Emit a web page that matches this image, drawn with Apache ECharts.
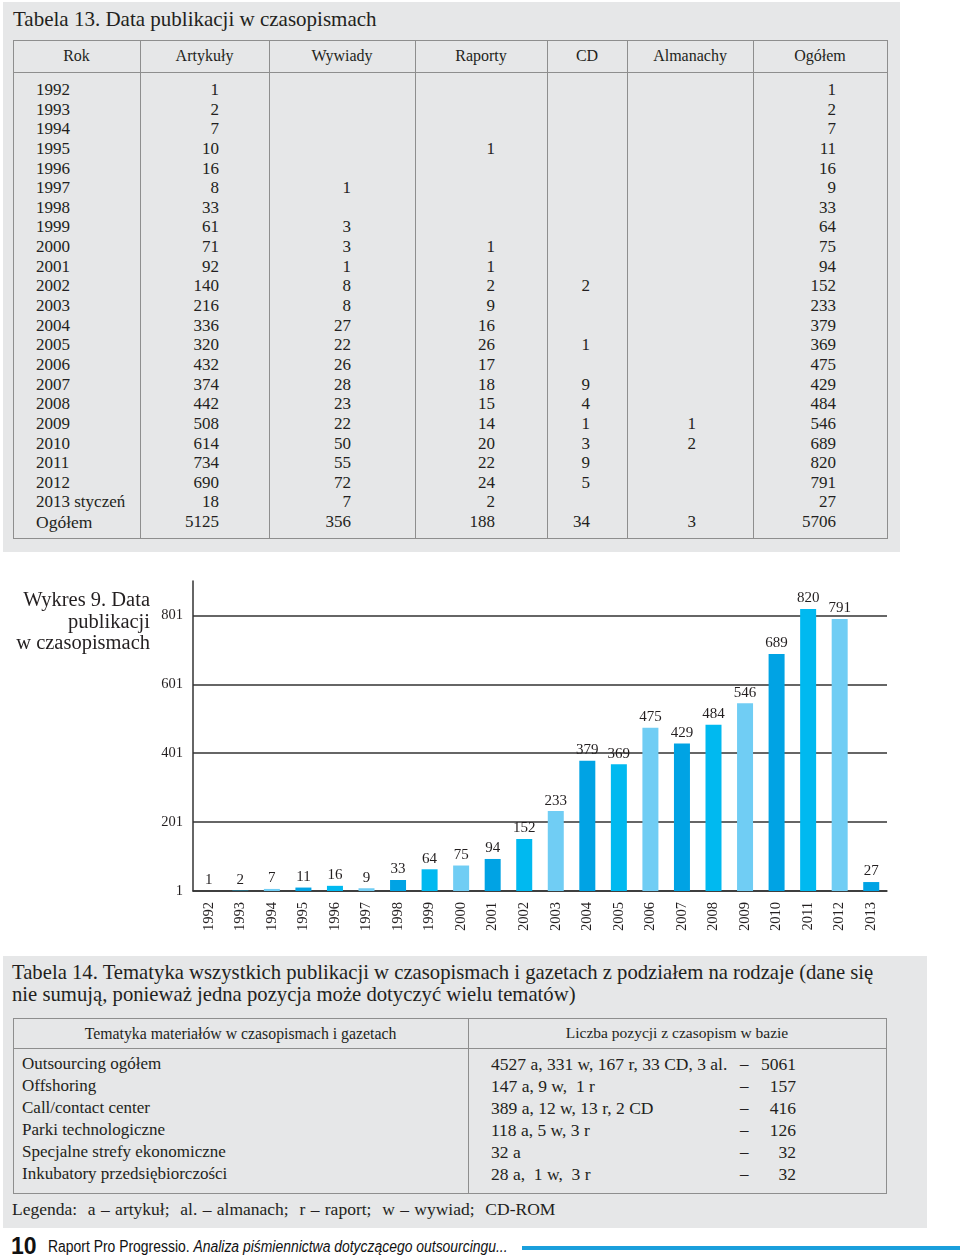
<!DOCTYPE html>
<html><head><meta charset="utf-8">
<script src="https://cdn.jsdelivr.net/npm/echarts@6/dist/echarts.min.js"></script>
<style>
html,body{margin:0;padding:0;background:#fff;}
body{width:960px;height:1257px;position:relative;overflow:hidden;font-family:"Liberation Serif","DejaVu Serif",serif;color:#231f20;}
.abs{position:absolute;white-space:nowrap;}
.panel{position:absolute;background:#e6e7e8;}
.ln{position:absolute;background:#8e8e8e;}
</style></head><body>
<script>
// ---------- DATA ----------
const t13Title = 'Tabela 13. Data publikacji w czasopismach';
const t13Headers = ['Rok','Artykuły','Wywiady','Raporty','CD','Almanachy','Ogółem'];
const t13Years = ['1992','1993','1994','1995','1996','1997','1998','1999','2000','2001','2002','2003','2004','2005','2006','2007','2008','2009','2010','2011','2012','2013 styczeń','Ogółem'];
const t13Artykuly = [1,2,7,10,16,8,33,61,71,92,140,216,336,320,432,374,442,508,614,734,690,18,5125];
const t13Wywiady = [null,null,null,null,null,1,null,3,3,1,8,8,27,22,26,28,23,22,50,55,72,7,356];
const t13Raporty = [null,null,null,1,null,null,null,null,1,1,2,9,16,26,17,18,15,14,20,22,24,2,188];
const t13CD = [null,null,null,null,null,null,null,null,null,null,2,null,null,1,null,9,4,1,3,9,5,null,34];
const t13Almanachy = [null,null,null,null,null,null,null,null,null,null,null,null,null,null,null,null,null,1,2,null,null,null,3];
const t13Ogolem = [1,2,7,11,16,9,33,64,75,94,152,233,379,369,475,429,484,546,689,820,791,27,5706];

const chartTitleLines = ['Wykres 9. Data','publikacji','w czasopismach'];
const chartYears = ['1992','1993','1994','1995','1996','1997','1998','1999','2000','2001','2002','2003','2004','2005','2006','2007','2008','2009','2010','2011','2012','2013'];
const chartValues = [1,2,7,11,16,9,33,64,75,94,152,233,379,369,475,429,484,546,689,820,791,27];
const yTickValues = [1,201,401,601,801];

const t14TitleLines = ['Tabela 14. Tematyka wszystkich publikacji w czasopismach i gazetach z podziałem na rodzaje (dane się','nie sumują, ponieważ jedna pozycja może dotyczyć wielu tematów)'];
const t14Headers = ['Tematyka materiałów w czasopismach i gazetach','Liczba pozycji z czasopism w bazie'];
const t14Topics = ['Outsourcing ogółem','Offshoring','Call/contact center','Parki technologiczne','Specjalne strefy ekonomiczne','Inkubatory przedsiębiorczości'];
const t14Breakdown = ['4527 a, 331 w, 167 r, 33 CD, 3 al.','147 a, 9 w,  1 r','389 a, 12 w, 13 r, 2 CD','118 a, 5 w, 3 r','32 a','28 a,  1 w,  3 r'];
const t14Totals = [5061,157,416,126,32,32];
const t14Legend = 'Legenda:  a – artykuł;  al. – almanach;  r – raport;  w – wywiad;  CD-ROM';

const footerNum = '10';
const footerText = 'Raport Pro Progressio. ';
const footerItalic = 'Analiza piśmiennictwa dotyczącego outsourcingu...';
</script>
<div id="chart" style="position:absolute;left:0;top:560px;width:960px;height:380px;"></div>
<script>
const page = document.body;
function el(tag, cls, css, text){
  const d=document.createElement(tag); if(cls) d.className=cls;
  Object.assign(d.style, css||{}); if(text!==undefined) d.textContent=text; page.appendChild(d); return d;
}
// ---- Panel 1: Table 13 ----
el('div','panel',{left:'3px',top:'2px',width:'897px',height:'550px'});
el('div','abs',{left:'13px',top:'6px',fontSize:'21px',lineHeight:'26px'},t13Title);
const T={l:13,t:40,r:887,b:538,h:72};
const colX=[13,140,269,415,547,627,753,887];
el('div','ln',{left:T.l+'px',top:T.t+'px',width:(T.r-T.l)+'px',height:'1px'});
el('div','ln',{left:T.l+'px',top:T.h+'px',width:(T.r-T.l)+'px',height:'1px'});
el('div','ln',{left:T.l+'px',top:T.b+'px',width:(T.r-T.l+1)+'px',height:'1px'});
colX.forEach(x=>el('div','ln',{left:x+'px',top:T.t+'px',width:'1px',height:(T.b-T.t)+'px'}));
t13Headers.forEach((h,i)=>{
  el('div','abs',{left:colX[i]+'px',width:(colX[i+1]-colX[i])+'px',textAlign:'center',top:'45px',lineHeight:'22px',fontSize:'16px'},h);
});
const rightEdges=[219,351,495,590,696,836];
const cols=[t13Artykuly,t13Wywiady,t13Raporty,t13CD,t13Almanachy,t13Ogolem];
t13Years.forEach((y,r)=>{
  const top=80+r*19.64;
  el('div','abs',{left:'36px',top:top+'px',lineHeight:'20px',fontSize:(r===t13Years.length-1?'17.5px':'17px')},y);
  cols.forEach((c,ci)=>{
    if(c[r]===null) return;
    el('div','abs',{left:(rightEdges[ci]-80)+'px',width:'80px',textAlign:'right',top:top+'px',lineHeight:'20px',fontSize:'17px'},String(c[r]));
  });
});
// ---- chart title ----
chartTitleLines.forEach((s,i)=>{
  el('div','abs',{left:'0px',width:'150px',textAlign:'right',top:(587+i*21.5)+'px',lineHeight:'24px',fontSize:'20.5px'},s);
});
// ---- Panel 3: Table 14 ----
el('div','panel',{left:'3px',top:'956px',width:'924px',height:'272px'});
t14TitleLines.forEach((s,i)=>{
  el('div','abs',{left:'12px',top:(959+i*22)+'px',lineHeight:'26px',fontSize:'20.7px'},s);
});
const U={l:13,t:1018,r:886,b:1193,h:1048,mid:468};
el('div','ln',{left:U.l+'px',top:U.t+'px',width:(U.r-U.l)+'px',height:'1px'});
el('div','ln',{left:U.l+'px',top:U.h+'px',width:(U.r-U.l)+'px',height:'1px'});
el('div','ln',{left:U.l+'px',top:U.b+'px',width:(U.r-U.l+1)+'px',height:'1px'});
[U.l,U.mid,U.r].forEach(x=>el('div','ln',{left:x+'px',top:U.t+'px',width:'1px',height:(U.b-U.t)+'px'}));
el('div','abs',{left:U.l+'px',width:(U.mid-U.l)+'px',textAlign:'center',top:'1023px',lineHeight:'22px',fontSize:'15.8px'},t14Headers[0]);
el('div','abs',{left:U.mid+'px',width:(U.r-U.mid)+'px',textAlign:'center',top:'1022px',lineHeight:'22px',fontSize:'15.5px'},t14Headers[1]);
t14Topics.forEach((s,i)=>{
  const top=1053+i*22;
  el('div','abs',{left:'22px',top:top+'px',lineHeight:'22px',fontSize:'17px'},s);
  el('div','abs',{left:'491px',top:top+'px',lineHeight:'22px',fontSize:'17.5px',whiteSpace:'pre'},t14Breakdown[i]);
  el('div','abs',{left:'740px',top:top+'px',lineHeight:'22px',fontSize:'17px'},'–');
  el('div','abs',{left:'716px',width:'80px',textAlign:'right',top:top+'px',lineHeight:'22px',fontSize:'17.5px'},String(t14Totals[i]));
});
el('div','abs',{left:'12px',top:'1198px',lineHeight:'22px',fontSize:'17.5px',whiteSpace:'pre',wordSpacing:'1px'},t14Legend);
// ---- footer ----
el('div','abs',{left:'11px',top:'1233px',lineHeight:'26px',fontSize:'23px',fontWeight:'bold',fontFamily:'"Liberation Sans",Arial,sans-serif',color:'#111'},footerNum);
const ft=el('div','abs',{left:'48px',top:'1236px',lineHeight:'22px',fontSize:'16px',fontFamily:'"Liberation Sans",sans-serif',color:'#111',transform:'scaleX(0.87)',transformOrigin:'0 50%'},footerText);
const it=document.createElement('i'); it.textContent=footerItalic; ft.appendChild(it);
el('div','',{position:'absolute',left:'522px',top:'1246px',width:'438px',height:'4px',background:'#1a9fdc'});

// ---- ECharts bar chart ----
const palette=['#00a3e4','#00b9f0','#70cdf4'];
const serif='"Liberation Serif","DejaVu Serif",serif';
const chart=echarts.init(document.getElementById('chart'),null,{renderer:'canvas'});
chart.setOption({
  animation:false,
  grid:{left:193,right:73,top:21,height:310,containLabel:false},
  xAxis:{type:'category',data:chartYears,
    axisLine:{lineStyle:{color:'#333',width:1.5}},
    axisTick:{length:5,lineStyle:{color:'#333',width:1.5}},
    axisLabel:{rotate:90,margin:11,fontSize:14.5,fontFamily:serif,color:'#231f20'}},
  yAxis:{type:'value',min:1,max:901,
    axisLine:{show:true,lineStyle:{color:'#333',width:1.5}},
    axisTick:{show:false,customValues:yTickValues},
    axisLabel:{customValues:yTickValues,margin:10,fontSize:14.5,fontFamily:serif,color:'#231f20'},
    splitLine:{show:true,lineStyle:{color:'#333',width:1.5}}},
  series:[{type:'bar',data:chartValues,barWidth:16,
    itemStyle:{color:p=>palette[p.dataIndex%3]},
    label:{show:true,position:'top',distance:3,fontSize:15,fontFamily:serif,color:'#231f20'}}]
});
</script>
</body></html>
